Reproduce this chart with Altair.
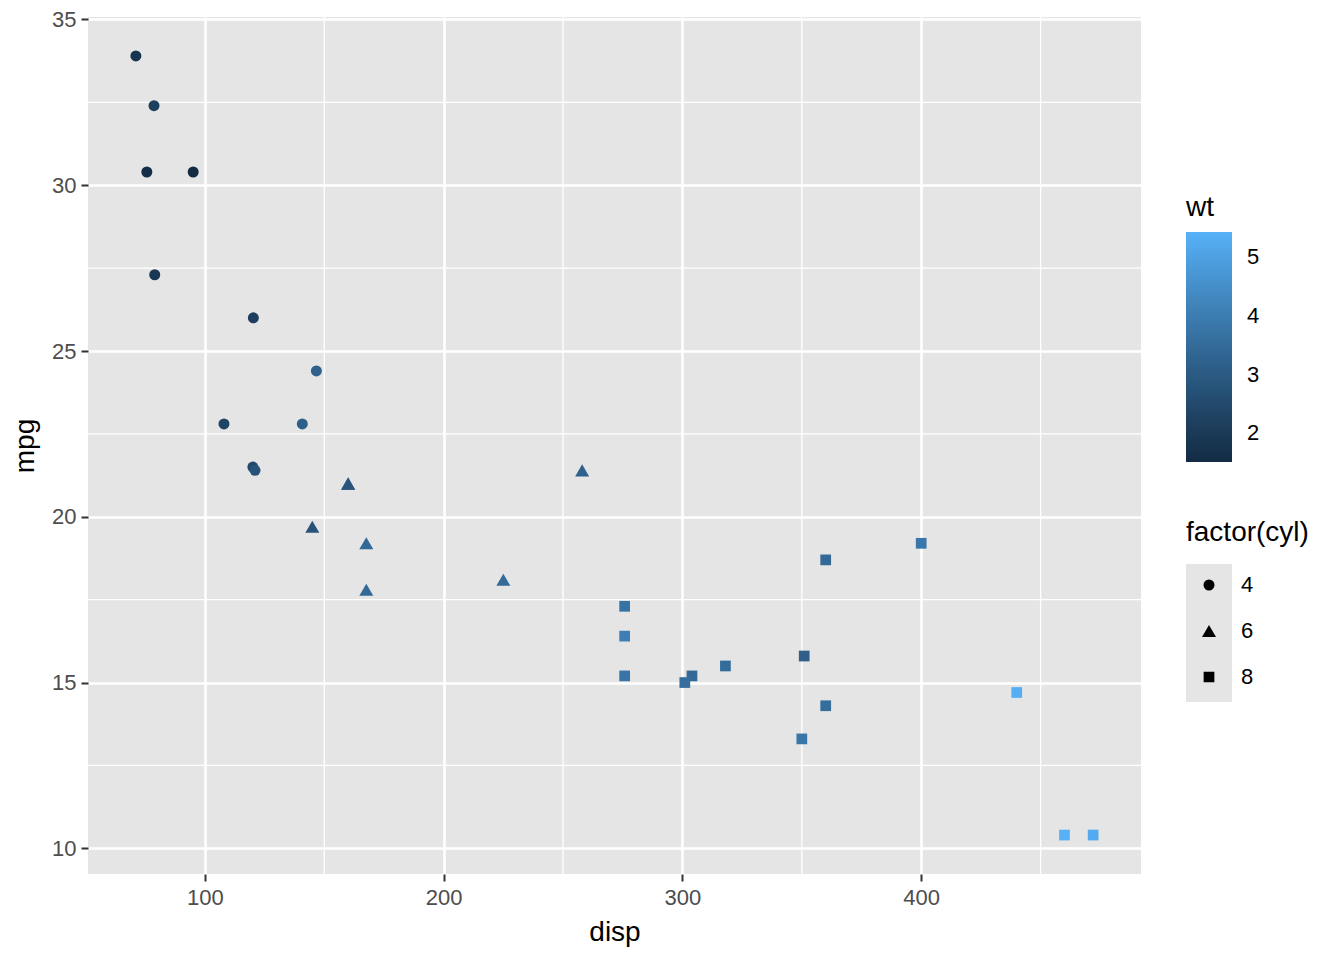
import altair as alt
import pandas as pd

# mtcars: disp, mpg, wt, cyl
disp = [160, 160, 108, 258, 360, 225, 360, 146.7, 140.8, 167.6, 167.6, 275.8, 275.8, 275.8,
        472, 460, 440, 78.7, 75.7, 71.1, 120.1, 318, 304, 350, 400, 79, 120.3, 95.1, 351, 145, 301, 121]
mpg = [21.0, 21.0, 22.8, 21.4, 18.7, 18.1, 14.3, 24.4, 22.8, 19.2, 17.8, 16.4, 17.3, 15.2,
       10.4, 10.4, 14.7, 32.4, 30.4, 33.9, 21.5, 15.5, 15.2, 13.3, 19.2, 27.3, 26.0, 30.4, 15.8, 19.7, 15.0, 21.4]
wt = [2.620, 2.875, 2.320, 3.215, 3.440, 3.460, 3.570, 3.190, 3.150, 3.440, 3.440, 4.070, 3.730, 3.780,
      5.250, 5.424, 5.345, 2.200, 1.615, 1.835, 2.465, 3.520, 3.435, 3.840, 3.845, 1.935, 2.140, 1.513, 3.170, 2.770, 3.570, 2.780]
cyl = [6, 6, 4, 6, 8, 6, 8, 4, 4, 6, 6, 8, 8, 8, 8, 8, 8, 4, 4, 4, 4, 8, 8, 8, 8, 4, 4, 4, 8, 6, 8, 4]

x_major = [100, 200, 300, 400]
x_minor = [150, 250, 350, 450]
y_major = [10, 15, 20, 25, 30, 35]
y_minor = [12.5, 17.5, 22.5, 27.5, 32.5]
wt_ticks = [2, 3, 4, 5]
cyl_levels = ["4", "6", "8"]
shape_range = ["circle", "triangle-up", "square"]
size_range = [121, 196, 115]

PANEL = "#E5E5E5"

df = pd.DataFrame({
    "disp": disp, "mpg": mpg, "wt": wt,
    "cyl": [str(c) for c in cyl], "cylnum": cyl,
})

def expand(vals):
    lo, hi = min(vals), max(vals)
    d = (hi - lo) * 0.05
    return [lo - d, hi + d]

xdom = expand(disp)
ydom = expand(mpg)
xscale = alt.Scale(domain=xdom, nice=False, zero=False)
yscale = alt.Scale(domain=ydom, nice=False, zero=False)

FONT = "Liberation Sans"

axis_common = dict(
    grid=True, gridColor="white", gridWidth=2.6, domain=False,
    tickSize=7, tickWidth=2, tickColor="#333333",
    labelFont=FONT, labelFontSize=22, labelColor="#4D4D4D",
    titleFont=FONT, titleFontSize=28, titleFontWeight="normal", titleColor="black",
)
xaxis = alt.Axis(values=x_major, title="disp", labelPadding=6, titlePadding=10, **axis_common)
yaxis = alt.Axis(values=y_major, title="mpg", labelPadding=5, titlePadding=12, **axis_common)

minor_x = alt.Chart(pd.DataFrame({"disp": x_minor})).mark_rule(color="white", strokeWidth=1.3).encode(
    x=alt.X("disp:Q", scale=xscale, axis=xaxis)
)
minor_y = alt.Chart(pd.DataFrame({"mpg": y_minor})).mark_rule(color="white", strokeWidth=1.3).encode(
    y=alt.Y("mpg:Q", scale=yscale, axis=yaxis)
)

shape_legend = alt.Legend(title="factor(cyl)", orient="none", legendX=1098, legendY=502,
                          clipHeight=46, rowPadding=0, symbolOffset=12, labelOffset=21,
                          symbolFillColor="black", symbolStrokeWidth=0,
                          titlePadding=15, zindex=2)

points = alt.Chart(df).mark_point(filled=True, opacity=1).encode(
    x=alt.X("disp:Q", scale=xscale, axis=xaxis),
    y=alt.Y("mpg:Q", scale=yscale, axis=yaxis),
    color=alt.Color("wt:Q",
                    scale=alt.Scale(domain=[min(wt), max(wt)], range=["#132B43", "#56B1F7"],
                                    interpolate="lab", nice=False, zero=False),
                    legend=alt.Legend(title="wt", orient="none", legendX=1098, legendY=177,
                                      direction="vertical", gradientLength=230, gradientThickness=46,
                                      gradientStrokeWidth=0, values=wt_ticks, labelOffset=15,
                                      titlePadding=10, zindex=1)),
    shape=alt.Shape("cyl:N", scale=alt.Scale(domain=cyl_levels, range=shape_range),
                    legend=shape_legend),
    size=alt.Size("cyl:N", scale=alt.Scale(type="ordinal", domain=cyl_levels, range=size_range),
                  legend=shape_legend),
    stroke=alt.Stroke("cylnum:Q", scale=alt.Scale(range=[PANEL, PANEL]),
                      legend=alt.Legend(title=None, orient="none", legendX=1098, legendY=547,
                                        direction="vertical", gradientLength=138, gradientThickness=46,
                                        gradientStrokeWidth=0, labelExpr="''", zindex=0)),
    strokeWidth=alt.value(0),
)

chart = alt.layer(minor_x, minor_y, points).properties(
    width=1053, height=857,
    autosize=alt.AutoSizeParams(type="none"),
    padding={"left": 80, "top": 9, "right": 187, "bottom": 80},
).configure_view(
    fill=PANEL, stroke=None
).configure_legend(
    titleFont=FONT, titleFontSize=28, titleFontWeight="normal", titleColor="black",
    labelFont=FONT, labelFontSize=22, labelColor="black", padding=0, titleAnchor="start",
)

chart.save("out.html", embed_options={"renderer": "svg", "actions": False})
